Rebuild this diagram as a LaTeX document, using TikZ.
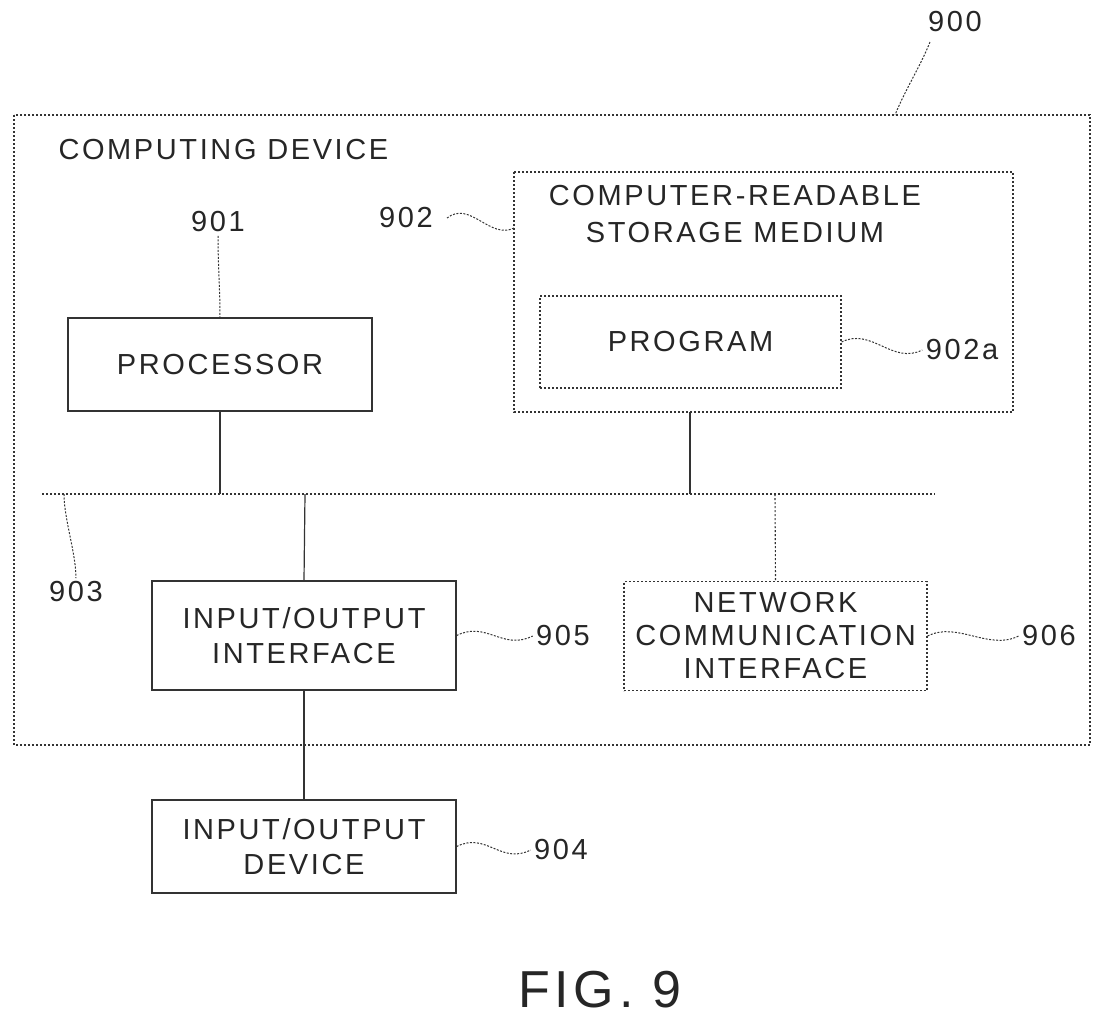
\documentclass[tikz,border=0pt]{standalone}
\usepackage{fontspec}
\setmainfont{Liberation Sans}[LetterSpace=9]
\begin{document}
\begin{tikzpicture}[x=1pt,y=-1pt,
  txt/.style={font=\fontsize{29}{35}\selectfont, text=black!85, align=center},
  sbox/.style={draw=black!80, line width=1.2pt},
  dbox/.style={draw=black!80, line width=1.1pt, dash pattern=on 2pt off 2pt},
  ln/.style={draw=black!80, line width=1.2pt},
  dln/.style={draw=black!80, line width=1.1pt, dash pattern=on 2pt off 2pt},
  lead/.style={draw=black!80, line width=1pt, dash pattern=on 2pt off 1.5pt}]
\useasboundingbox (0,0) rectangle (1114,1029);
% outer
\draw[dbox] (14,115) rectangle (1090,745);
\node[txt, anchor=west] (cd) at (55,150) {COMPUTING DEVICE};
\node[txt] (l900) at (955,22) {900};
\coordinate (c900) at (895,115);
\draw[lead] (930,42) .. controls +(-10,25) and +(10,-25) .. (c900);
% storage
\draw[dbox] (514,172) rectangle (1013,412);
\node[txt, font=\fontsize{29}{37}\selectfont] (crs) at (735,214) {COMPUTER-READABLE\\STORAGE MEDIUM};
\node[txt] (l902) at (406,218) {902};
\coordinate (c902) at (514,228);
\draw[lead] (447,218) .. controls (470,200) and (490,240) .. (c902);
\node[dbox, txt, minimum width=301pt, minimum height=92pt] (prog) at (690.5,342) {PROGRAM};
\node[txt] (l902a) at (962,350) {902a};
\draw[lead] (prog.east) .. controls +(30,-15) and +(-30,15) .. (l902a.west);
% processor
\node[sbox, txt, minimum width=304pt, minimum height=93pt] (proc) at (220,364.5) {PROCESSOR};
\node[txt] (l901) at (218,222) {901};
\draw[lead] (l901.south) .. controls +(0,30) and +(0,-30) .. (proc.north);
% bus
\coordinate (b0) at (42,494);
\coordinate (b1) at (935,494);
\draw[dln] (b0) -- (b1);
\coordinate (bp) at (220,494);
\coordinate (bs) at (690,494);
\coordinate (bi) at (305,494);
\coordinate (bn) at (775,494);
\draw[ln] (proc.south) -- (bp);
\draw[ln] (690,412) -- (bs);
\node[txt] (l903) at (76,592) {903};
\coordinate (c903) at (64,494);
\draw[lead] (c903) .. controls +(0,25) and +(0,-25) .. (l903.north);
% io interface
\node[sbox, txt, minimum width=304pt, minimum height=109pt] (ioi) at (304,635.5) {INPUT/OUTPUT\\INTERFACE};
\draw[ln] (bi) -- (ioi.north);
\node[txt] (l905) at (563,636) {905};
\draw[lead] (ioi.east) .. controls +(30,-15) and +(-30,15) .. (l905.west);
% network
\node[dbox, txt, font=\fontsize{29}{33}\selectfont, minimum width=303pt, minimum height=109pt, inner xsep=0pt] (net) at (775.5,636) {NETWORK\\COMMUNICATION\\INTERFACE};
\draw[dln] (bn) -- (net.north);
\node[txt] (l906) at (1049,636) {906};
\draw[lead] (net.east) .. controls +(30,-15) and +(-30,15) .. (l906.west);
% device
\node[sbox, txt, minimum width=304pt, minimum height=93pt] (dev) at (304,846.5) {INPUT/OUTPUT\\DEVICE};
\draw[ln] (ioi.south) -- (dev.north);
\node[txt] (l904) at (561,850) {904};
\draw[lead] (dev.east) .. controls +(30,-15) and +(-30,15) .. (l904.west);
\node[font=\fontsize{52}{56}\selectfont, text=black!85] (fig) at (600,990) {FIG. 9};
\end{tikzpicture}
\end{document}
